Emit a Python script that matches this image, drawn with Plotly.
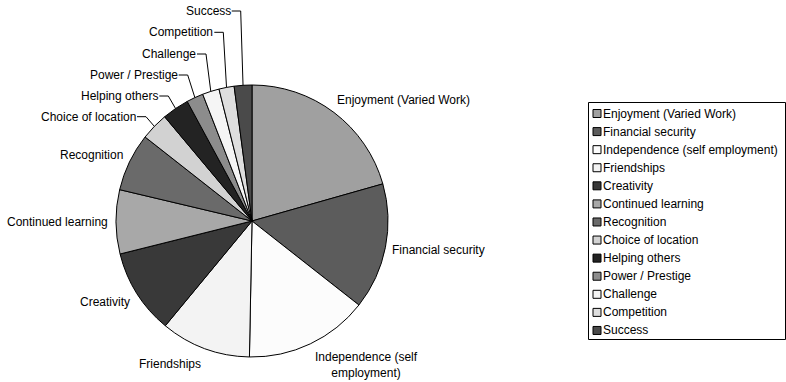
import math
import plotly.graph_objects as go

# ---- data ----
labels = ["Enjoyment (Varied Work)", "Financial security", "Independence (self employment)",
          "Friendships", "Creativity", "Continued learning", "Recognition",
          "Choice of location", "Helping others", "Power / Prestige", "Challenge",
          "Competition", "Success"]
values = [20.6, 15.0, 14.7, 10.7, 10.1, 7.6, 6.9, 3.3, 3.2, 2.0, 2.0, 1.8, 2.1]
slice_text = ["Enjoyment (Varied Work)", "Financial security", "Independence (self<br>employment)",
              "Friendships", "Creativity", "Continued learning", "Recognition",
              "Choice of location", "Helping others", "Power / Prestige", "Challenge",
              "Competition", "Success"]

# ---- styles / layout constants ----
colors = ["#a0a0a0", "#5c5c5c", "#fcfcfc", "#f3f3f3", "#393939", "#a8a8a8", "#6a6a6a",
          "#d2d2d2", "#232323", "#8c8c8c", "#f5f5f5", "#dedede", "#4a4a4a"]
W, H = 786, 382
CX, CY, R = 252, 221, 136
FONT = "Liberation Sans, Arial, sans-serif"

# label anchor positions in pixels: (x, y, xanchor, leader)
label_pos = [
    (337, 99.5, "left", False),
    (392, 250, "left", False),
    (366, 364.5, "center", False),
    (139, 364.3, "left", False),
    (80, 301.7, "left", False),
    (7.3, 222.3, "left", False),
    (60, 155, "left", False),
    (136, 116.7, "right", True),
    (158.3, 96, "right", True),
    (177.7, 75, "right", True),
    (196, 54, "right", True),
    (213.3, 32.3, "right", True),
    (230.7, 11, "right", True),
]


def fx(x):
    return x / W


def fy(y):
    return 1 - y / H


fig = go.Figure(go.Pie(
    labels=labels, values=values, sort=False, direction="clockwise", rotation=0,
    marker=dict(colors=colors, line=dict(color="black", width=1)),
    textinfo="none", hoverinfo="label+percent", showlegend=False,
    domain=dict(x=[fx(CX - R), fx(CX + R)], y=[fy(CY + R), fy(CY - R)]),
))

annotations = []
shapes = []
total = sum(values)
cum = 0.0
for i, v in enumerate(values):
    mid = 2 * math.pi * (cum + v / 2) / total
    cum += v
    ex = CX + R * math.sin(mid)
    ey = CY - R * math.cos(mid)
    x, y, xa, leader = label_pos[i]
    annotations.append(dict(
        x=fx(x), y=fy(y), xref="paper", yref="paper", text=slice_text[i],
        showarrow=False, xanchor=xa, yanchor="middle", align="center",
        font=dict(family=FONT, size=12, color="black"), borderpad=0, borderwidth=0))
    if leader:
        x0 = x + 1
        x1 = x + 10
        path = f"M {fx(x0)} {fy(y)} L {fx(x1)} {fy(y)} L {fx(ex)} {fy(ey)}"
        shapes.append(dict(type="path", xref="paper", yref="paper", path=path,
                           line=dict(color="black", width=1)))

# manual legend
LX0, LY0, LX1, LY1 = 588.5, 102.5, 785.5, 339.5
shapes.append(dict(type="rect", xref="paper", yref="paper",
                   x0=fx(LX0), x1=fx(LX1), y0=fy(LY1), y1=fy(LY0),
                   line=dict(color="black", width=1), fillcolor="white", layer="below"))
step = 18.08
for i, lab in enumerate(labels):
    yc = 113.5 + step * i
    shapes.append(dict(type="rect", xref="paper", yref="paper",
                       x0=fx(593), x1=fx(601), y0=fy(yc + 4), y1=fy(yc - 4),
                       line=dict(color="black", width=1), fillcolor=colors[i]))
    annotations.append(dict(
        x=fx(603), y=fy(yc), xref="paper", yref="paper", text=lab, showarrow=False,
        xanchor="left", yanchor="middle", font=dict(family=FONT, size=12, color="black"),
        borderpad=0, borderwidth=0))

fig.update_layout(
    width=W, height=H, margin=dict(l=0, r=0, t=0, b=0),
    paper_bgcolor="white", plot_bgcolor="white",
    annotations=annotations, shapes=shapes, showlegend=False,
)
fig.write_html("out.html", config={"displayModeBar": False},
               post_script="document.body.style.margin='0';document.body.style.padding='0';")
